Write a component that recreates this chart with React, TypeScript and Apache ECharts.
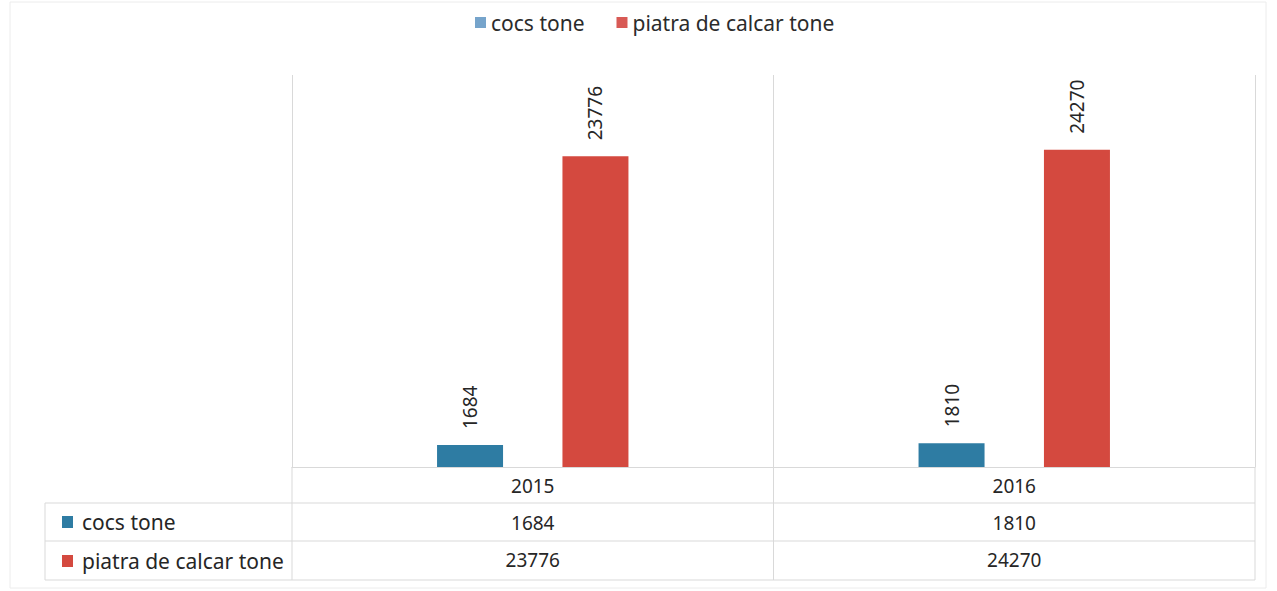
import React, { useEffect, useRef } from "react";
import * as echarts from "echarts";

const categories = ["2015", "2016"];
const cocs = [1684, 1810];
const calcar = [23776, 24270];
const seriesNames = ["cocs tone", "piatra de calcar tone"];
const colors = ["#2e7ca3", "#d4493f"];
const legendColors = ["#76a4cb", "#d85a55"];

const FONT = "Noto Sans";
const GRID_L = 292;
const GRID_R = 1255;
const GRID_T = 75;
const AXIS_Y = 467;
const LINE = "#d9d9d9";

export default function App() {
  const ref = useRef<HTMLDivElement>(null);
  useEffect(() => {
    if (!ref.current) return;
    const chart = echarts.init(ref.current, null, { renderer: "svg" });
    const mid = (GRID_L + GRID_R) / 2;
    const label = () => ({
      show: true,
      position: "top",
      rotate: 90,
      align: "left",
      verticalAlign: "middle",
      distance: 16,
      fontFamily: FONT,
      fontSize: 19,
      color: "#262626",
    });
    chart.setOption({
      animation: false,
      backgroundColor: "#ffffff",
      textStyle: { fontFamily: FONT },
      legend: {
        top: 7,
        left: 470,
        itemWidth: 11,
        itemHeight: 11,
        itemGap: 32,
        icon: "rect",
        textStyle: { fontFamily: FONT, fontSize: 21, color: "#2b2b2b" },
        data: seriesNames.map((n, i) => ({ name: n, itemStyle: { color: legendColors[i] } })),
      },
      grid: { left: GRID_L, right: 1277 - GRID_R, top: GRID_T, bottom: 591 - AXIS_Y },
      xAxis: {
        type: "category",
        data: categories,
        axisLine: { show: true, lineStyle: { color: LINE, width: 1 } },
        axisTick: { show: false },
        splitLine: { show: true, lineStyle: { color: LINE, width: 1 } },
        axisLabel: {
          margin: 0,
          fontFamily: FONT,
          fontSize: 19,
          color: "#262626",
          lineHeight: 37,
          formatter: (v: string, i: number) => `${v}\n${cocs[i]}\n${calcar[i]}`,
        },
      },
      yAxis: {
        type: "value",
        min: 0,
        max: 30000,
        show: false,
        splitLine: { show: false },
      },
      series: [
        {
          name: seriesNames[0],
          type: "bar",
          data: cocs,
          barWidth: 66,
          barGap: "90%",
          itemStyle: { color: colors[0] },
          label: label(),
        },
        {
          name: seriesNames[1],
          type: "bar",
          data: calcar,
          barWidth: 66,
          itemStyle: { color: colors[1] },
          label: label(),
        },
      ],
      graphic: [
        { type: "rect", shape: { x: 10, y: 2, width: 1256, height: 586 }, style: { fill: "none", stroke: "#ececec", lineWidth: 1 }, silent: true },
        { type: "line", shape: { x1: 45, y1: 503, x2: GRID_R, y2: 503 }, style: { stroke: LINE, lineWidth: 1 } },
        { type: "line", shape: { x1: 45, y1: 541, x2: GRID_R, y2: 541 }, style: { stroke: LINE, lineWidth: 1 } },
        { type: "line", shape: { x1: 45, y1: 580, x2: GRID_R, y2: 580 }, style: { stroke: LINE, lineWidth: 1 } },
        { type: "line", shape: { x1: 45, y1: 503, x2: 45, y2: 580 }, style: { stroke: LINE, lineWidth: 1 } },
        { type: "line", shape: { x1: GRID_L, y1: AXIS_Y, x2: GRID_L, y2: 580 }, style: { stroke: LINE, lineWidth: 1 } },
        { type: "line", shape: { x1: mid, y1: AXIS_Y, x2: mid, y2: 580 }, style: { stroke: LINE, lineWidth: 1 } },
        { type: "line", shape: { x1: GRID_R, y1: AXIS_Y, x2: GRID_R, y2: 580 }, style: { stroke: LINE, lineWidth: 1 } },
        { type: "rect", shape: { x: 62, y: 516, width: 11, height: 12 }, style: { fill: colors[0] } },
        { type: "text", x: 82, y: 522, style: { text: seriesNames[0], fontFamily: FONT, fontSize: 21, fill: "#262626", verticalAlign: "middle", align: "left" } },
        { type: "rect", shape: { x: 62, y: 555, width: 11, height: 12 }, style: { fill: colors[1] } },
        { type: "text", x: 82, y: 561, style: { text: seriesNames[1], fontFamily: FONT, fontSize: 21, fill: "#262626", verticalAlign: "middle", align: "left" } },
      ],
    });
    return () => chart.dispose();
  }, []);
  return (
    <div
      ref={ref}
      style={{ position: "fixed", left: 0, top: 0, width: 1277, height: 591 }}
    />
  );
}
